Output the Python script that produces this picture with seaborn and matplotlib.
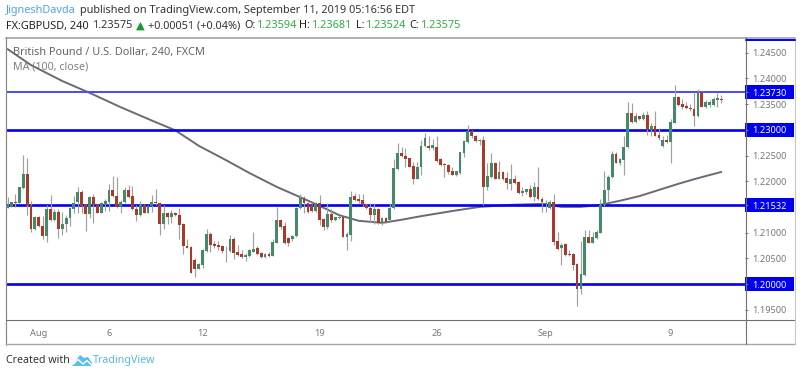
import numpy as np
import pandas as pd
import seaborn as sns
import matplotlib.pyplot as plt
from matplotlib.lines import Line2D
from matplotlib.patches import Polygon, Rectangle

# candles, one row = 10 bars
opens = [
    1.2148, 1.2150, 1.2160, 1.2158, 1.2186, 1.2215, 1.2154, 1.2108, 1.2130, 1.2112,
    1.2093, 1.2145, 1.2125, 1.2140, 1.2108, 1.2117, 1.2128, 1.2146, 1.2160, 1.2179,
    1.2153, 1.2136, 1.2169, 1.2154, 1.2139, 1.2154, 1.2160, 1.2182, 1.2172, 1.2149,
    1.2160, 1.2182, 1.2171, 1.2145, 1.2134, 1.2154, 1.2139, 1.2151, 1.2160, 1.2158,
    1.2117, 1.2138, 1.2130, 1.2139, 1.2134, 1.2116, 1.2073, 1.2072, 1.2047, 1.2030,
    1.2037, 1.2064, 1.2097, 1.2077, 1.2075, 1.2073, 1.2067, 1.2065, 1.2088, 1.2062,
    1.2058, 1.2052, 1.2055, 1.2063, 1.2070, 1.2060, 1.2052, 1.2058, 1.2055, 1.2080,
    1.2125, 1.2113, 1.2089, 1.2088, 1.2093, 1.2147, 1.2167, 1.2157, 1.2154, 1.2143,
    1.2157, 1.2126, 1.2110, 1.2136, 1.2125, 1.2128, 1.2130, 1.2091, 1.2096, 1.2171,
    1.2165, 1.2163, 1.2154, 1.2147, 1.2135, 1.2145, 1.2118, 1.2128, 1.2125, 1.2147,
    1.2223, 1.2254, 1.2250, 1.2246, 1.2230, 1.2204, 1.2227, 1.2268, 1.2268, 1.2265,
    1.2267, 1.2243, 1.2233, 1.2232, 1.2220, 1.2213, 1.2216, 1.2254, 1.2277, 1.2298,
    1.2288, 1.2278, 1.2281, 1.2188, 1.2208, 1.2236, 1.2205, 1.2217, 1.2206, 1.2195,
    1.2204, 1.2198, 1.2178, 1.2179, 1.2184, 1.2169, 1.2189, 1.2166, 1.2155, 1.2147,
    1.2159, 1.2084, 1.2071, 1.2077, 1.2058, 1.2058, 1.2039, 1.1991, 1.2018, 1.2092,
    1.2080, 1.2089, 1.2100, 1.2154, 1.2182, 1.2208, 1.2253, 1.2236, 1.2241, 1.2266,
    1.2332, 1.2316, 1.2326, 1.2322, 1.2329, 1.2300, 1.2308, 1.2290, 1.2268, 1.2281,
    1.2276, 1.2314, 1.2364, 1.2350, 1.2346, 1.2343, 1.2341, 1.2326, 1.2374, 1.2344,
    1.2348, 1.2348, 1.2358, 1.23594,
]
closes = [
    1.2154, 1.2159, 1.2158, 1.2188, 1.2215, 1.2152, 1.2108, 1.2130, 1.2112, 1.2093,
    1.2145, 1.2125, 1.2140, 1.2108, 1.2117, 1.2128, 1.2147, 1.2158, 1.2179, 1.2152,
    1.2136, 1.2169, 1.2153, 1.2139, 1.2157, 1.2161, 1.2182, 1.2171, 1.2149, 1.2160,
    1.2182, 1.2170, 1.2145, 1.2134, 1.2154, 1.2139, 1.2152, 1.2160, 1.2158, 1.2117,
    1.2138, 1.2131, 1.2139, 1.2134, 1.2115, 1.2073, 1.2071, 1.2022, 1.2029, 1.2038,
    1.2066, 1.2097, 1.2076, 1.2074, 1.2072, 1.2065, 1.2066, 1.2088, 1.2061, 1.2056,
    1.2052, 1.2056, 1.2066, 1.2069, 1.2058, 1.2052, 1.2058, 1.2055, 1.2082, 1.2125,
    1.2111, 1.2079, 1.2079, 1.2093, 1.2147, 1.2167, 1.2157, 1.2141, 1.2143, 1.2157,
    1.2125, 1.2110, 1.2136, 1.2125, 1.2130, 1.2131, 1.2092, 1.2097, 1.2170, 1.2163,
    1.2162, 1.2154, 1.2147, 1.2135, 1.2145, 1.2118, 1.2128, 1.2120, 1.2147, 1.2225,
    1.2254, 1.2249, 1.2243, 1.2228, 1.2204, 1.2228, 1.2269, 1.2284, 1.2264, 1.2270,
    1.2240, 1.2232, 1.2232, 1.2217, 1.2213, 1.2219, 1.2256, 1.2278, 1.2298, 1.2287,
    1.2278, 1.2281, 1.2189, 1.2210, 1.2236, 1.2205, 1.2217, 1.2204, 1.2196, 1.2204,
    1.2197, 1.2178, 1.2181, 1.2184, 1.2169, 1.2189, 1.2166, 1.2160, 1.2158, 1.2159,
    1.2082, 1.2069, 1.2076, 1.2056, 1.2056, 1.2037, 1.1991, 1.2019, 1.2092, 1.2080,
    1.2091, 1.2102, 1.2154, 1.2183, 1.2209, 1.2253, 1.2236, 1.2243, 1.2267, 1.2332,
    1.2316, 1.2326, 1.2322, 1.2329, 1.2300, 1.2308, 1.2288, 1.2285, 1.2281, 1.2276,
    1.2316, 1.2364, 1.2348, 1.2345, 1.2342, 1.2340, 1.2326, 1.2374, 1.2345, 1.2355,
    1.2355, 1.2360, 1.2361, 1.23575,
]
highs = [
    1.2170, 1.2160, 1.2176, 1.2188, 1.2251, 1.2246, 1.2162, 1.2132, 1.2132, 1.2132,
    1.2153, 1.2173, 1.2145, 1.2145, 1.2141, 1.2134, 1.2149, 1.2171, 1.2189, 1.2183,
    1.2156, 1.2171, 1.2175, 1.2156, 1.2160, 1.2165, 1.2194, 1.2210, 1.2209, 1.2163,
    1.2188, 1.2193, 1.2191, 1.2154, 1.2161, 1.2156, 1.2154, 1.2173, 1.2184, 1.2160,
    1.2153, 1.2141, 1.2144, 1.2141, 1.2147, 1.2118, 1.2087, 1.2074, 1.2050, 1.2040,
    1.2069, 1.2108, 1.2102, 1.2084, 1.2084, 1.2076, 1.2074, 1.2095, 1.2092, 1.2076,
    1.2066, 1.2060, 1.2069, 1.2102, 1.2074, 1.2063, 1.2060, 1.2063, 1.2087, 1.2150,
    1.2126, 1.2121, 1.2092, 1.2095, 1.2149, 1.2175, 1.2171, 1.2158, 1.2156, 1.2160,
    1.2173, 1.2128, 1.2158, 1.2145, 1.2131, 1.2132, 1.2131, 1.2102, 1.2180, 1.2178,
    1.2175, 1.2176, 1.2157, 1.2157, 1.2157, 1.2147, 1.2131, 1.2130, 1.2157, 1.2244,
    1.2274, 1.2266, 1.2264, 1.2246, 1.2238, 1.2238, 1.2281, 1.2294, 1.2287, 1.2283,
    1.2287, 1.2246, 1.2235, 1.2233, 1.2227, 1.2220, 1.2257, 1.2280, 1.2310, 1.2300,
    1.2290, 1.2283, 1.2288, 1.2236, 1.2254, 1.2238, 1.2240, 1.2219, 1.2217, 1.2233,
    1.2212, 1.2200, 1.2188, 1.2185, 1.2193, 1.2199, 1.2227, 1.2169, 1.2163, 1.2163,
    1.2175, 1.2101, 1.2079, 1.2079, 1.2067, 1.2060, 1.2040, 1.2084, 1.2105, 1.2105,
    1.2102, 1.2105, 1.2165, 1.2219, 1.2212, 1.2259, 1.2257, 1.2246, 1.2287, 1.2355,
    1.2352, 1.2332, 1.2327, 1.2334, 1.2337, 1.2314, 1.2337, 1.2304, 1.2287, 1.2290,
    1.2322, 1.2387, 1.2366, 1.2359, 1.2355, 1.2350, 1.2374, 1.2379, 1.2376, 1.2358,
    1.2358, 1.2363, 1.2371, 1.23681,
]
lows = [
    1.2147, 1.2149, 1.2149, 1.2157, 1.2184, 1.2134, 1.2102, 1.2106, 1.2110, 1.2087,
    1.2081, 1.2123, 1.2123, 1.2090, 1.2095, 1.2102, 1.2112, 1.2138, 1.2139, 1.2139,
    1.2104, 1.2128, 1.2119, 1.2138, 1.2138, 1.2143, 1.2142, 1.2169, 1.2148, 1.2138,
    1.2158, 1.2167, 1.2144, 1.2122, 1.2132, 1.2138, 1.2138, 1.2141, 1.2154, 1.2096,
    1.2108, 1.2117, 1.2118, 1.2133, 1.2088, 1.2058, 1.2070, 1.2021, 1.2014, 1.2029,
    1.2032, 1.2063, 1.2063, 1.2071, 1.2066, 1.2060, 1.2042, 1.2063, 1.2048, 1.2054,
    1.2050, 1.2045, 1.2052, 1.2062, 1.2056, 1.2050, 1.2051, 1.2053, 1.2054, 1.2080,
    1.2108, 1.2078, 1.2074, 1.2084, 1.2092, 1.2145, 1.2139, 1.2139, 1.2141, 1.2141,
    1.2115, 1.2106, 1.2108, 1.2121, 1.2123, 1.2126, 1.2091, 1.2066, 1.2084, 1.2162,
    1.2157, 1.2152, 1.2145, 1.2121, 1.2117, 1.2117, 1.2115, 1.2118, 1.2124, 1.2146,
    1.2222, 1.2248, 1.2228, 1.2227, 1.2195, 1.2204, 1.2212, 1.2266, 1.2261, 1.2261,
    1.2238, 1.2230, 1.2209, 1.2215, 1.2212, 1.2210, 1.2215, 1.2248, 1.2275, 1.2285,
    1.2277, 1.2270, 1.2154, 1.2183, 1.2206, 1.2204, 1.2204, 1.2202, 1.2184, 1.2182,
    1.2195, 1.2175, 1.2172, 1.2175, 1.2167, 1.2162, 1.2163, 1.2141, 1.2141, 1.2146,
    1.2076, 1.2067, 1.2037, 1.2055, 1.2055, 1.2027, 1.1958, 1.1981, 1.2016, 1.2079,
    1.2079, 1.2087, 1.2100, 1.2152, 1.2162, 1.2206, 1.2235, 1.2232, 1.2212, 1.2264,
    1.2314, 1.2314, 1.2319, 1.2320, 1.2290, 1.2288, 1.2287, 1.2281, 1.2267, 1.2274,
    1.2235, 1.2313, 1.2346, 1.2340, 1.2340, 1.2337, 1.2307, 1.2324, 1.2344, 1.2342,
    1.2345, 1.2347, 1.2345, 1.23524,
]

ma_bars = [0, 6, 14, 21, 29, 37, 43, 49, 56, 62, 69, 75, 80, 85, 90, 96,
           101, 106, 114, 121, 129, 137, 142, 147, 152, 157, 162, 167, 172, 177, 183]
ma_vals = [1.2457, 1.2426, 1.2395, 1.2372, 1.2344, 1.2318, 1.2299, 1.2269,
           1.2241, 1.2216, 1.2189, 1.2169, 1.2152, 1.2134, 1.2123, 1.2119,
           1.2125, 1.2132, 1.2142, 1.2150, 1.2154, 1.2156, 1.2150, 1.2150,
           1.2154, 1.2162, 1.2171, 1.2183, 1.2195, 1.2206, 1.2218]

levels = [1.2373, 1.23, 1.21532, 1.2]
level_labels = ['1.23730', '1.23000', '1.21532', '1.20000']
price_ticks = [1.195, 1.205, 1.21, 1.22, 1.225, 1.235, 1.24, 1.245]
date_bars = [8, 26, 50, 80, 110, 138, 170]
date_labels = ['Aug', '6', '12', '19', '26', 'Sep', '9']

GREEN = '#458a68'
RED = '#a83a2a'
BLUE = '#0000f0'
GREY = '#777777'
W, H = 800, 376

sns.set_style('white')
plt.rcParams['font.family'] = ['Noto Sans', 'DejaVu Sans']

df = pd.DataFrame({'bar': np.arange(len(opens)), 'open': opens, 'high': highs,
                   'low': lows, 'close': closes})
df['up'] = df['close'] >= df['open']
df['colour'] = np.where(df['up'], GREEN, RED)
ma = pd.DataFrame({'bar': ma_bars, 'ma': ma_vals})

fig = plt.figure(figsize=(W / 100, H / 100), dpi=100)
ax = fig.add_axes([6 / W, 1 - 320 / H, 739.5 / W, 282.5 / H])

sns.lineplot(data=ma, x='bar', y='ma', color='#6a6a76', linewidth=1.4, ax=ax, zorder=2)

# level lines
for lev in levels:
    thin = lev == levels[0]
    ax.axhline(lev, color='#4a4af5' if thin else BLUE, lw=1.4 if thin else 1.9, zorder=3)

ax.vlines(df['bar'], df['low'], df['high'], color='#a0a0a0', lw=0.85, zorder=4)
ax.bar(df['bar'], (df['close'] - df['open']).abs(), bottom=df[['open', 'close']].min(axis=1),
       width=0.72, color=df['colour'], linewidth=0, zorder=5)

ax.set_xlim(-0.41, 189.2)
ax.set_ylim(1.19300, 1.24796)
ax.set_xlabel('')
ax.set_ylabel('')

ax.set_xticks(date_bars, date_labels)
ax.yaxis.tick_right()
ax.set_yticks(price_ticks + levels, [f'{t:.5f}' for t in price_ticks] + level_labels)
ax.tick_params(axis='x', length=2.2, width=0.7, color=GREY, labelcolor=GREY, labelsize=6.6, pad=4.5)
ax.tick_params(axis='y', length=2.2, width=0.7, color=GREY, labelcolor=GREY, labelsize=6.6, pad=2.8)
for lab in ax.get_yticklabels()[len(price_ticks):]:
    lab.set_color('white')
    lab.set_fontweight('bold')

# blue tags behind the level labels
trans = ax.get_yaxis_transform()
tag_w = 49 / 739.5
tag_h = 14 / 5140
for lev in levels:
    ax.add_patch(Rectangle((1, lev - tag_h / 2), tag_w, tag_h, transform=trans, color=BLUE,
                           lw=0, clip_on=False, zorder=0.1))

for side in ['top', 'left', 'right', 'bottom']:
    ax.spines[side].set_visible(False)


def px(x, y):
    return x / W, 1 - y / H


def frame_line(x0, y0, x1, y1, colour, lw):
    xa, ya = px(x0, y0)
    xb, yb = px(x1, y1)
    fig.add_artist(Line2D([xa, xb], [ya, yb], color=colour, lw=lw))


frame_line(6, 37.5, 795, 37.5, '#9a9a9a', 1.1)
frame_line(6, 37, 6, 344.5, '#8a8a8a', 0.9)
frame_line(6, 320, 795, 320, '#6f6f6f', 0.8)
frame_line(6, 344, 795, 344, '#a8a8a8', 1.0)
frame_line(745.5, 37, 745.5, 344, '#707070', 0.8)
frame_line(795, 37, 795, 344, '#c8c8c8', 0.8)
frame_line(745.5, 39.5, 795, 39.5, BLUE, 1.4)


def label(x, y, s, colour='#333333', size=7.85, weight='normal', **kw):
    fx, fy = px(x, y)
    fig.text(fx, fy, s, color=colour, fontsize=size, fontweight=weight, va='center', ha='left', **kw)


# header
label(6, 10.5, 'JigneshDavda', '#4aa8e0')
label(80, 10.5, 'published on TradingView.com, September 11, 2019 05:16:56 EDT')
label(6, 26, 'FX:GBPUSD, 240', '#222222', weight='bold')
label(93, 26, '1.23575')
label(135.5, 25.5, '▲', '#149c2c', size=8.2, family='DejaVu Sans')
label(148, 26, '+0.00051 (+0.04%)')
for x_key, key, x_val, val in [(244, 'O:', 257, '1.23594'), (299, 'H:', 312, '1.23681'),
                               (356, 'L:', 366, '1.23524'), (409, 'C:', 421, '1.23575')]:
    label(x_key, 26, key, '#222222', weight='bold')
    label(x_val, 26, val, '#2fae3f')

# pane legend
label(13, 52, 'British Pound / U.S. Dollar, 240, FXCM', '#666666', size=7.9, weight='semibold')
label(13, 67, 'MA (100, close)', '#808080', size=7.7)

# footer
label(6, 360.5, 'Created with', '#333333', size=7.7)
label(93, 360.5, 'TradingView', '#55b8e6', size=7.7)
logo = [(72, 366), (77, 359), (80, 355), (84, 358), (88, 357), (92, 363), (91, 366)]
fig.add_artist(Polygon([px(*p) for p in logo], closed=True, color='#5bbfe8', lw=0,
                       transform=fig.transFigure))
zig = [(73, 364.5), (78, 359.5), (83, 364), (87, 360.5), (91, 364.5)]
fig.add_artist(Line2D(*zip(*[px(*p) for p in zig]), color='white', lw=1.0))

fig.savefig('out.png', dpi=100)
